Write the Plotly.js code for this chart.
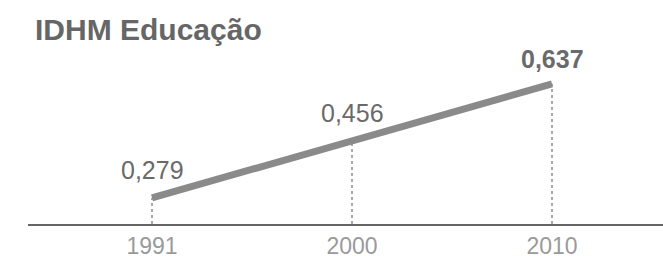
<!DOCTYPE html>
<html>
<head>
<meta charset="utf-8">
<script src="https://cdn.plot.ly/plotly-3.0.1.min.js"></script>
<style>html,body{margin:0;padding:0;background:#fff;}#chart{width:663px;height:258px;}</style>
</head>
<body>
<div id="chart"></div>
<script>
const years = ['1991', '2000', '2010'];
const values = [0.279, 0.456, 0.637];
const boldLabel = [false, false, true];
const titleText = 'IDHM Educação';

const yMin = 0.197, yMax = 0.806;

const fmt = v => v.toFixed(3).replace('.', ',');

const trace = {
  x: years,
  y: values,
  type: 'scatter',
  mode: 'lines',
  line: {color: '#8a8a8a', width: 7},
  hoverinfo: 'skip'
};

// category axes: annotations/shapes use the category serial number
const annotations = years.map((yr, i) => ({
  x: i, y: values[i], xref: 'x', yref: 'y',
  text: boldLabel[i] ? '<b>' + fmt(values[i]) + '</b>' : fmt(values[i]),
  showarrow: false, yanchor: 'bottom', yshift: boldLabel[i] ? 9 : 12,
  font: {family: 'Liberation Sans, Arial, sans-serif', size: 25, color: '#6a6a6a'}
}));
annotations.push({
  x: 0.008, y: 1.0, xref: 'paper', yref: 'paper', xanchor: 'left', yanchor: 'top',
  yshift: 19,
  text: '<b>' + titleText + '</b>', showarrow: false,
  font: {family: 'Liberation Sans, Arial, sans-serif', size: 30, color: '#666666'}
});

const shapes = years.map((yr, i) => ({
  type: 'line', xref: 'x', yref: 'y', layer: 'below',
  x0: i, x1: i, y0: yMin, y1: values[i],
  line: {color: '#8c8c8c', width: 1.5, dash: 'dot'}
}));

const layout = {
  width: 663, height: 258,
  margin: {l: 28, r: 0, t: 30, b: 34},
  paper_bgcolor: '#ffffff', plot_bgcolor: '#ffffff',
  showlegend: false,
  xaxis: {
    type: 'category', range: [-0.62, 2.555],
    showgrid: false, zeroline: false,
    showline: true, linecolor: '#666666', linewidth: 2,
    ticks: '', ticklen: 0,
    tickfont: {family: 'Liberation Sans, Arial, sans-serif', size: 23, color: '#9a9a9a'},
    fixedrange: true
  },
  yaxis: {
    range: [yMin, yMax], visible: false, showgrid: false, zeroline: false, fixedrange: true
  },
  annotations: annotations,
  shapes: shapes
};

Plotly.newPlot('chart', [trace], layout, {displayModeBar: false, staticPlot: true});
</script>
</body>
</html>
